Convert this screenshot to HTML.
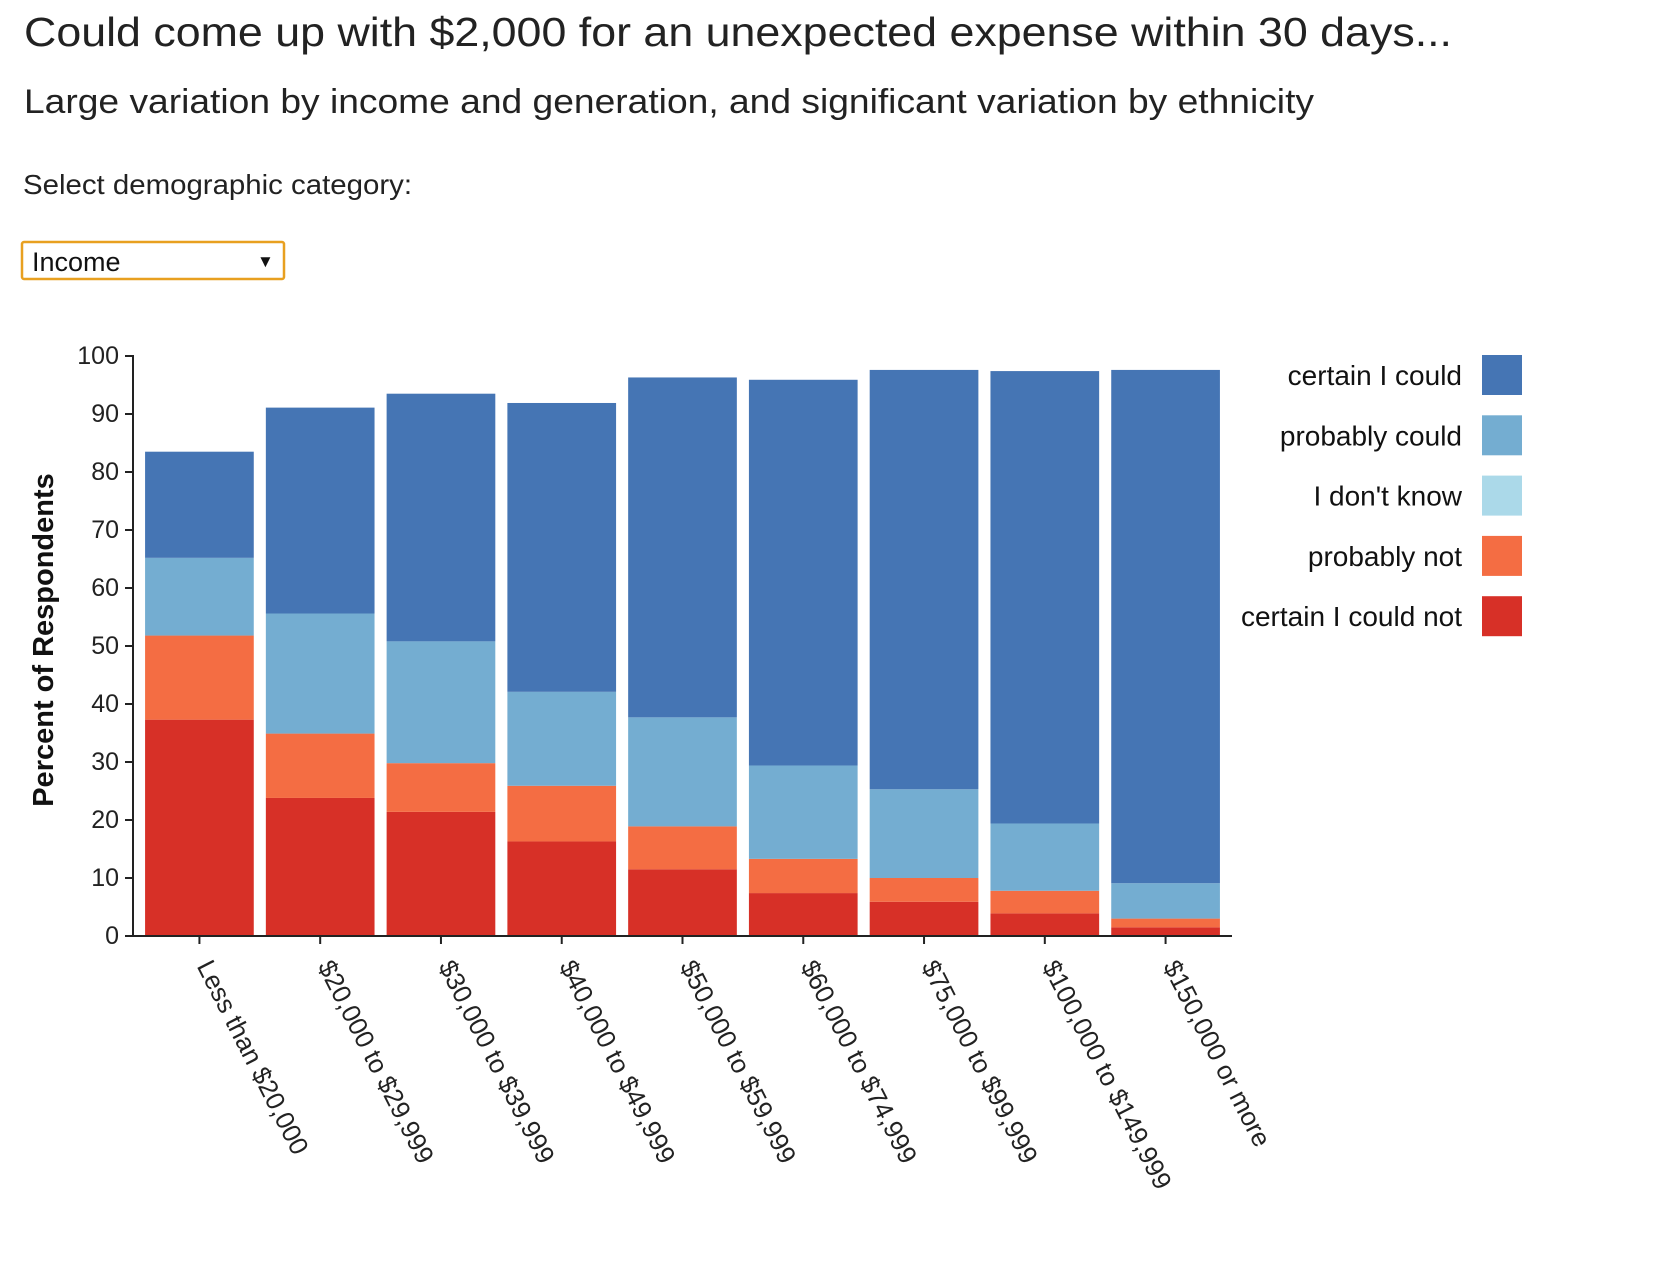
<!DOCTYPE html>
<html><head><meta charset="utf-8"><style>
html,body{margin:0;padding:0;background:#fff;width:1680px;height:1280px;overflow:hidden}
svg{display:block;font-family:"Liberation Sans",sans-serif}
</style></head><body>
<svg id="chart" width="1680" height="1280" xmlns="http://www.w3.org/2000/svg">
<text x="24" y="46" font-size="41" fill="#222" textLength="1428" lengthAdjust="spacingAndGlyphs">Could come up with $2,000 for an unexpected expense within 30 days...</text>
<text x="24" y="113" font-size="34" fill="#222" textLength="1290" lengthAdjust="spacingAndGlyphs">Large variation by income and generation, and significant variation by ethnicity</text>
<text x="23" y="194" font-size="28" fill="#222" textLength="389" lengthAdjust="spacingAndGlyphs">Select demographic category:</text>
<g>
<rect x="22" y="242" width="262" height="37" rx="2" fill="#fff" stroke="#e8a020" stroke-width="2.5"/>
<text x="32" y="271" font-size="27" fill="#111">Income</text>
<text x="257" y="267" font-size="17" fill="#111">▼</text>
</g>
<g id="plot"></g>
</svg>
<script>
const categories=["Less than $20,000","$20,000 to $29,999","$30,000 to $39,999","$40,000 to $49,999","$50,000 to $59,999","$60,000 to $74,999","$75,000 to $99,999","$100,000 to $149,999","$150,000 or more"];
const certainNot=[37.3,23.8,21.4,16.3,11.5,7.4,5.9,3.9,1.5];
const probablyNot=[14.5,11.1,8.4,9.6,7.4,5.9,4.1,3.9,1.5];
const dontKnow=[0,0,0,0,0,0,0,0,0];
const probablyCould=[13.4,20.7,21.0,16.2,18.8,16.1,15.3,11.6,6.1];
const certainCould=[18.3,35.5,42.7,49.8,58.6,66.5,72.3,78.0,88.5];
const yTicks=[0,10,20,30,40,50,60,70,80,90,100];
const seriesNames=["certain I could not","probably not","I don't know","probably could","certain I could"];
const seriesKeys=["certain-could-not","probably-not","dont-know","probably-could","certain-could"];
const colors=["#d73027","#f46d43","#abd9e9","#74add1","#4575b4"];
const NS="http://www.w3.org/2000/svg";
const g=document.getElementById('plot');
const x0=133,x1=1232,yZero=936,yTop=356;
const y=v=>yZero-(yZero-yTop)*v/100;
const step=(x1-x0)/(categories.length-0.1+0.2);
const bw=step*0.9;
const bx=i=>x0+step*0.1+i*step;
function mk(t,a){const e=document.createElementNS(NS,t);for(const k in a)e.setAttribute(k,a[k]);g.appendChild(e);return e;}
const series=[certainNot,probablyNot,dontKnow,probablyCould,certainCould];
categories.forEach((c,i)=>{
  let cum=0;
  series.forEach((s,j)=>{
    const v=s[i];
    const r=mk('rect',{x:bx(i),y:y(cum+v),width:bw,height:y(cum)-y(cum+v),fill:colors[j]});
    
    
    cum+=v;
  });
});
let ax=mk('path',{d:`M${x0-8},${yTop}H${x0}V${yZero}H${x0-8}`,fill:'none',stroke:'#222','stroke-width':2});


yTicks.forEach(t=>{
  mk('line',{x1:x0-8,x2:x0,y1:y(t),y2:y(t),stroke:'#222','stroke-width':2});
  const tx=mk('text',{x:x0-14,y:y(t)+8,'text-anchor':'end','font-size':25,fill:'#222'});
  tx.textContent=t;
  
  
});
let xa=mk('line',{x1:x0,x2:x1,y1:yZero,y2:yZero,stroke:'#222','stroke-width':2});


categories.forEach((c,i)=>{
  const cx=bx(i)+bw/2;
  mk('line',{x1:cx,x2:cx,y1:yZero,y2:yZero+8,stroke:'#222','stroke-width':2});
  const tx=mk('text',{x:0,y:0,'font-size':26,fill:'#222',transform:`translate(${cx-3},${yZero+30}) rotate(63)`});
  tx.textContent=c;
  
  
});
const yt=mk('text',{x:0,y:0,'text-anchor':'middle','font-size':29,fill:'#111','font-weight':'bold',transform:'translate(53,640) rotate(-90)'});
yt.textContent='Percent of Respondents';


for(let k=0;k<5;k++){
  const j=4-k;const cy=375+k*60.3;
  const r=mk('rect',{x:1482,y:cy-20,width:40,height:40,fill:colors[j]});
  
  
  const t=mk('text',{x:1462,y:cy+10,'text-anchor':'end','font-size':28,fill:'#111'});
  t.textContent=seriesNames[j];
  
  
}
</script>
</body></html>
